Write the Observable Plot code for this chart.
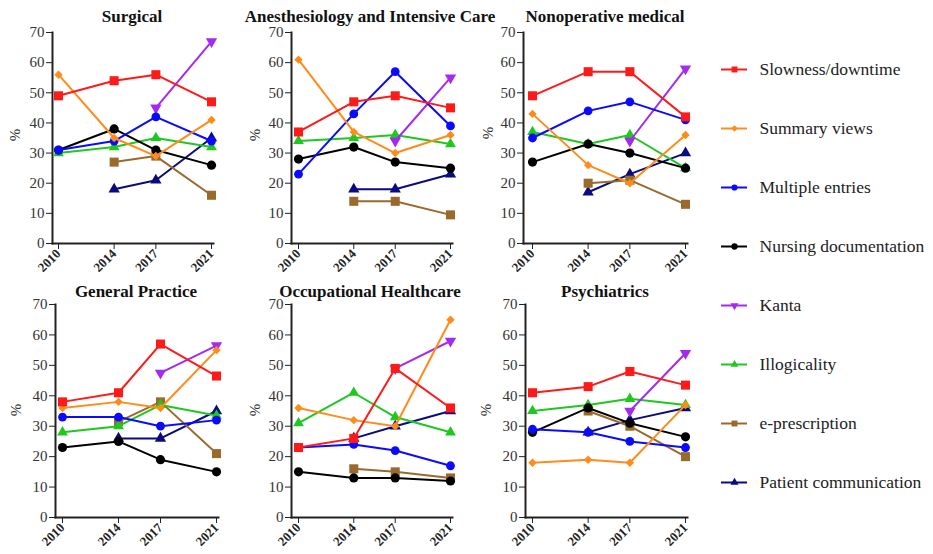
<!DOCTYPE html>
<html><head><meta charset="utf-8">
<script src="https://cdn.jsdelivr.net/npm/d3@7"></script>
<script src="https://cdn.jsdelivr.net/npm/@observablehq/plot@0.6"></script>
<style>
body{margin:0;background:#fff;}
#root{position:relative;width:933px;height:554px;font-family:"Liberation Serif","Times New Roman",serif;color:#222;overflow:hidden;}
#root svg, #root svg text{font-family:"Liberation Serif","Times New Roman",serif !important;}
.title{position:absolute;font-weight:bold;font-size:17px;line-height:1;white-space:nowrap;transform:translate(-50%,-50%);color:#111;}
.pct{position:absolute;font-size:15px;line-height:1;transform:translate(-50%,-50%) rotate(-90deg);color:#333;}
.panel{position:absolute;}
</style></head><body><div id="root"></div>
<script>
// ---- data ----
const years = [2010, 2014, 2017, 2021];
const yTicks = [0, 10, 20, 30, 40, 50, 60, 70];
const series = ["Slowness/downtime", "Summary views", "Multiple entries", "Nursing documentation", "Kanta", "Illogicality", "e-prescription", "Patient communication"];
const colors = ["#ff1a1a", "#ff8c1a", "#0a0aff", "#000000", "#a52af0", "#1fc81f", "#9a6a2c", "#0b0b80"];
const symbols = ["square", "diamond2", "circle", "circle", "triangle", "triangle", "square", "triangle"];
const titles = ["Surgical", "Anesthesiology and Intensive Care", "Nonoperative medical", "General Practice", "Occupational Healthcare", "Psychiatrics"];

// rows follow the series order; null = not asked that year
const surgical = [
  [49, 54, 56, 47],
  [56, 35, 29, 41],
  [31, 34, 42, 34],
  [31, 38, 31, 26],
  [null, null, 45, 67],
  [30, 32, 35, 32],
  [null, 27, 29, 16],
  [null, 18, 21, 35]
];
const anesthesiology = [
  [37, 47, 49, 45],
  [61, 37, 30, 36],
  [23, 43, 57, 39],
  [28, 32, 27, 25],
  [null, null, 34, 55],
  [34, 35, 36, 33],
  [null, 14, 14, 9.5],
  [null, 18, 18, 23]
];
const nonoperative = [
  [49, 57, 57, 42],
  [43, 26, 20, 36],
  [35, 44, 47, 41],
  [27, 33, 30, 25],
  [null, null, 34, 58],
  [37, 33, 36, 25],
  [null, 20, 21, 13],
  [null, 17, 23, 30]
];
const generalPractice = [
  [38, 41, 57, 46.5],
  [36, 38, 36, 55],
  [33, 33, 30, 32],
  [23, 25, 19, 15],
  [null, null, 47.5, 56.5],
  [28, 30, 37, 33.5],
  [null, 31.5, 38, 21],
  [null, 26, 26, 35]
];
const occupational = [
  [23, 26, 49, 36],
  [36, 32, 30, 65],
  [23, 24, 22, 17],
  [15, 13, 13, 12],
  [null, null, 49, 58],
  [31, 41, 33, 28],
  [null, 16, 15, 13],
  [null, 26, 30, 35]
];
const psychiatrics = [
  [41, 43, 48, 43.5],
  [18, 19, 18, 37],
  [29, 28, 25, 23],
  [28, 36, 31, 26.5],
  [null, null, 35, 54],
  [35, 37, 39, 37],
  [null, 35, 30, 20],
  [null, 28, 32, 36]
];
const panelData = [surgical, anesthesiology, nonoperative, generalPractice, occupational, psychiatrics];

// ---- layout ----
const markerR = [5.1, 3.8, 4.4, 4.6, 4.2, 4.0, 5.1, 4.2];
const layouts = [
  {left: 0,   top: 0,   w: 225, h: 270, mL: 52, mR: 12, mT: 32, mB: 27, iL: 6, iR: 2, tx: 132, ty: 16, px: 15,  py: 135},
  {left: 240, top: 0,   w: 225, h: 270, mL: 51, mR: 13, mT: 32, mB: 27, iL: 7, iR: 2, tx: 370, ty: 16, px: 255, py: 135},
  {left: 472, top: 0,   w: 228, h: 270, mL: 51, mR: 13, mT: 32, mB: 27, iL: 9, iR: 2, tx: 605, ty: 16, px: 488, py: 133},
  {left: 0,   top: 270, w: 230, h: 284, mL: 55, mR: 12, mT: 34, mB: 37, iL: 7, iR: 2, tx: 136, ty: 291, px: 16, py: 410},
  {left: 240, top: 270, w: 225, h: 284, mL: 51, mR: 13, mT: 34, mB: 37, iL: 7, iR: 2, tx: 370, ty: 291, px: 255, py: 410},
  {left: 472, top: 270, w: 228, h: 284, mL: 53, mR: 13, mT: 34, mB: 37, iL: 7, iR: 2, tx: 605, ty: 291, px: 486, py: 410}
];

const root = document.getElementById("root");
const font = '"Liberation Serif","Times New Roman",serif';

function makePanel(values, L) {
  const rows = [];
  series.forEach((s, i) => years.forEach((yr, j) => {
    const v = values[i][j];
    if (v != null) rows.push({series: s, idx: i, year: yr, value: v});
  }));
  const marks = [
    Plot.axisY({ticks: yTicks, tickSize: 6, tickPadding: 2, fontSize: 15, fill: "#333", label: null, fontFamily: font}),
    Plot.axisX({ticks: years, tickSize: 6, tickPadding: 2, tickRotate: -45, fontSize: 13, fontWeight: "bold", fill: "#222", label: null, tickFormat: "d", fontFamily: font}),
    Plot.frame({anchor: "left", strokeWidth: 2}),
    Plot.frame({anchor: "bottom", strokeWidth: 2})
  ];
  for (let i = series.length - 1; i >= 0; i--) {
    const d = rows.filter(r => r.idx === i);
    marks.push(Plot.line(d, {x: "year", y: "value", stroke: "series", strokeWidth: 2}));
    marks.push(Plot.dot(d, {x: "year", y: "value", fill: "series", symbol: "series", r: markerR[i], rotate: series[i] === "Kanta" ? 180 : 0}));
  }
  const svg = Plot.plot({
    width: L.w, height: L.h,
    marginLeft: L.mL, marginRight: L.mR, marginTop: L.mT, marginBottom: L.mB,
    x: {domain: [2010, 2021], insetLeft: L.iL, insetRight: L.iR},
    y: {domain: [0, 70]},
    color: {domain: series, range: colors},
    symbol: {domain: series, range: symbols},
    style: {fontFamily: font, color: "#222", background: "transparent", overflow: "visible"},
    marks
  });
  svg.classList.add("panel");
  svg.style.left = L.left + "px";
  svg.style.top = L.top + "px";
  root.appendChild(svg);
}

panelData.forEach((vals, k) => {
  const L = layouts[k];
  makePanel(vals, L);
  const t = document.createElement("div");
  t.className = "title"; t.textContent = titles[k];
  t.style.left = L.tx + "px"; t.style.top = L.ty + "px";
  root.appendChild(t);
  const p = document.createElement("div");
  p.className = "pct"; p.textContent = "%";
  p.style.left = L.px + "px"; p.style.top = L.py + "px";
  root.appendChild(p);
});

// ---- legend ----
const legend = Plot.plot({
  width: 233, height: 470, margin: 0,
  x: {domain: [0, 1], range: [21, 47], axis: null},
  y: {type: "point", domain: series, range: [28, 442], padding: 0, axis: null},
  color: {domain: series, range: colors},
  symbol: {domain: series, range: symbols},
  style: {fontFamily: font, color: "#222", background: "transparent", overflow: "visible"},
  marks: [
    Plot.ruleY(series, {y: d => d, x1: 0, x2: 1, stroke: d => d, strokeWidth: 2}),
    Plot.dot(series, {x: 0.5, y: d => d, fill: d => d, symbol: d => d, r: (d) => markerR[series.indexOf(d)] * 0.9, rotate: d => d === "Kanta" ? 180 : 0}),
    Plot.text(series, {x: 1, y: d => d, text: d => d, dx: 12, textAnchor: "start", fontSize: 17.5, fill: "#222", fontFamily: font})
  ]
});
legend.classList.add("panel");
legend.style.left = "700px";
legend.style.top = "40px";
root.appendChild(legend);
</script>
</body></html>
